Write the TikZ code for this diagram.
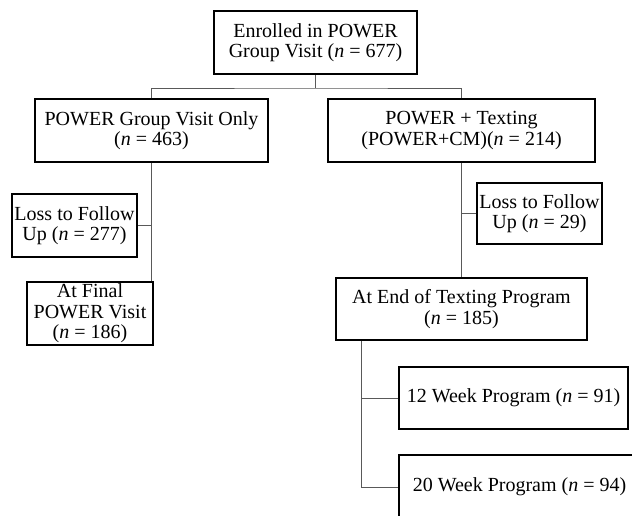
\documentclass[tikz,border=0pt]{standalone}
\usepackage{fontspec}
\setmainfont{Liberation Serif}
\usepackage{tikz}

\begin{document}
\begin{tikzpicture}[x=1pt,y=1pt]
\tikzstyle{every node}+=[inner sep=0pt]
\tikzstyle{box}=[draw=black, line width=1.5pt, align=center, font=\fontsize{20}{20.5}\selectfont]
\tikzstyle{link}=[draw=black!65, line width=0.9pt]
\useasboundingbox[fill=white] (0,0) rectangle (632,-515);
% boxes
\node [box, minimum width=203, minimum height=63] (enrolled) at (315.5,-42.5) {Enrolled in POWER\\Group Visit (\textit{n} = 677)};
\node [box, minimum width=233, minimum height=63] (visitonly) at (151.5,-130.5) {POWER Group Visit Only\\(\textit{n} = 463)};
\node [box, minimum width=267, minimum height=63] (texting) at (461.5,-130.5) {POWER + Texting\\(POWER+CM)(\textit{n} = 214)};
\node [box, minimum width=125, minimum height=63] (lossleft) at (74.5,-225.5) {Loss to Follow\\Up (\textit{n} = 277)};
\node [box, minimum width=126, minimum height=63] (finalvisit) at (90,-313.5) {At Final\\POWER Visit\\(\textit{n} = 186)};
\node [box, minimum width=125, minimum height=61] (lossright) at (539.5,-213.5) {Loss to Follow\\Up (\textit{n} = 29)};
\node [box, minimum width=251, minimum height=62] (endtexting) at (461.5,-309) {At End of Texting Program\\(\textit{n} = 185)};
\node [box, minimum width=229, minimum height=62] (week12) at (513.5,-398) {12 Week Program (\textit{n} = 91)};
\node [box, minimum width=241, minimum height=64] (week20) at (519.5,-487) {20 Week Program (\textit{n} = 94)};
% connectors
\coordinate (split) at (315.5,-88);
\coordinate (trunk) at ([xshift=26]endtexting.south west);
\draw [link] (enrolled.south) -- (split);
\draw [link] (visitonly.north) |- (split) -| (texting.north);
\draw [link] (visitonly.south) -- (visitonly.south |- finalvisit.north);
\draw [link] (lossleft.east) -- (lossleft.east -| visitonly.south);
\draw [link] (texting.south) -- (endtexting.north);
\draw [link] (lossright.west) -- (lossright.west -| texting.south);
\draw [link] (trunk) |- (week20.west);
\draw [link] (week12.west) -- (week12.west -| trunk);
\end{tikzpicture}
\end{document}
